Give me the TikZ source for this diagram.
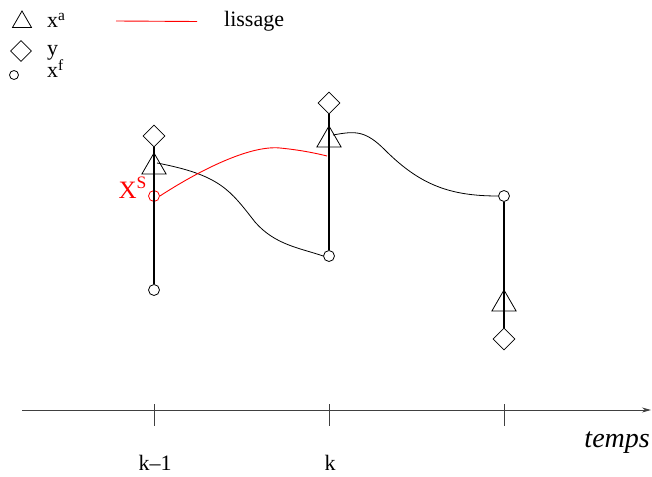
\documentclass[tikz,border=0pt]{standalone}
\usepackage{fontspec}
\setmainfont{Liberation Serif}
\newfontfamily\tms{Liberation Serif}
\usetikzlibrary{shapes.geometric,arrows.meta}
\begin{document}
\begin{tikzpicture}[x=1pt,y=-1pt,
  tri/.style={draw,regular polygon,regular polygon sides=3,minimum size=28pt,inner sep=0pt,line width=0.8pt},
  dia/.style={draw,diamond,minimum width=22pt,minimum height=22pt,inner sep=0pt,line width=0.8pt},
  circ/.style={draw,circle,minimum size=11pt,inner sep=0pt,line width=0.8pt},
  thickline/.style={line width=2.2pt},
  thinline/.style={line width=0.8pt},
  redline/.style={line width=0.9pt,color=red},
  txt/.style={font=\tms\fontsize{22}{26}\selectfont,inner sep=0pt}]
\useasboundingbox (0,0) rectangle (652,476);
% legend
\node[tri,minimum size=22pt] (lt) at (22,22) {};
\node[txt,anchor=base west] (la) at (47,28) {x\textsuperscript{a}};
\node[dia,minimum width=21pt,minimum height=21pt] (ld) at (21,51) {};
\node[txt,anchor=base west] (ly) at (47,56) {y};
\node[circ,minimum size=9pt] (lc) at (14,75) {};
\node[txt,anchor=base west] (lf) at (47,78) {x\textsuperscript{f}};
\coordinate (lr1) at (116,21);
\coordinate (lr2) at (197,21.5);
\draw[redline] (lr1) -- (lr2);
\node[txt,anchor=base west] (ls) at (224,27) {lissage};
% column k-1
\node[dia] (d1) at (154,136) {};
\node[tri] (t1) at (154,167) {};
\node[circ] (c1) at (154,290) {};
\node[circ,draw=red] (r1) at (154,196) {};
\draw[thickline] (d1.south) -- (c1.north);
\node[txt,text=red,font=\tms\fontsize{25}{28}\selectfont,anchor=base east] (xs) at (147,198) {X\textsuperscript{S}};
% column k
\node[dia] (d2) at (329,103) {};
\node[tri] (t2) at (329,140) {};
\node[circ] (c2) at (329,256) {};
\draw[thickline] (d2.south) -- (c2.north);
% column 3
\node[circ] (c3) at (504,196) {};
\node[tri] (t3) at (504,304) {};
\node[dia] (d3) at (504,339) {};
\draw[thickline] (c3.south) -- (d3.north);
% curves
\coordinate (s1) at (157,163);
\coordinate (s2) at (333,135);
\coordinate (e1) at (327,156);
\draw[thinline] (s1) .. controls (220,175) and (230,190) .. (255,222) .. controls (275,245) and (300,248) .. (c2.west);
\draw[thinline] (s2) .. controls (355,131) and (365,130) .. (385,150) .. controls (420,185) and (450,196) .. (c3.west);
\draw[redline] (r1.east) .. controls (200,170) and (250,145) .. (280,148) .. controls (300,150) and (315,153) .. (e1);
% axis
\coordinate (a0) at (22,410);
\coordinate (a1) at (651,410);
\draw[thinline,draw=black!75,-{Stealth[length=9pt,width=5pt]}] (a0) -- (a1);
\foreach \xx/\nm in {154/k1,329/k2,504/k3}{
  \coordinate (\nm a) at (\xx,404);
  \coordinate (\nm b) at (\xx,426);
  \draw[thinline,draw=black!75] (\nm a) -- (\nm b);
}
\node[txt,anchor=base] (lk1) at (155,470) {k–1};
\node[txt,anchor=base] (lk) at (330,470) {k};
\node[txt,font=\tms\itshape\fontsize{28}{32}\selectfont,anchor=base east] (tm) at (650,447) {temps};
\end{tikzpicture}
\end{document}
